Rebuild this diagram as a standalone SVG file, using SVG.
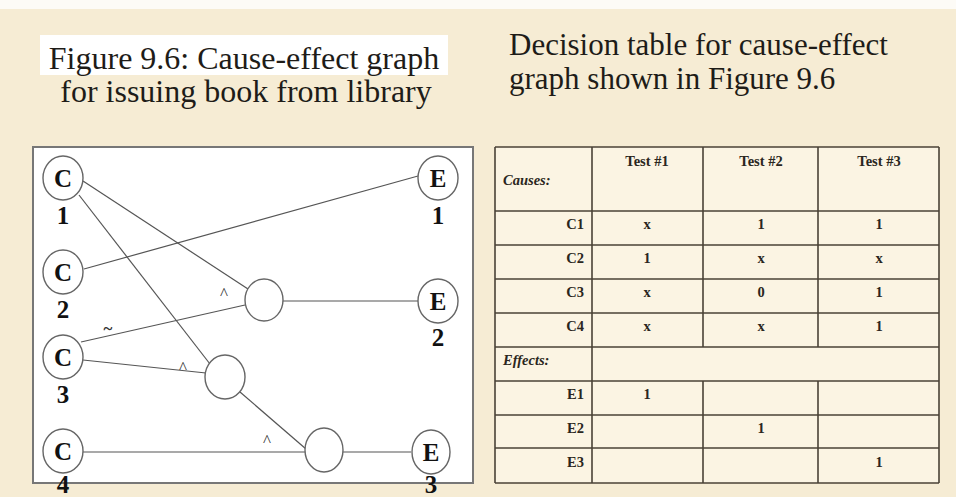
<svg xmlns="http://www.w3.org/2000/svg" width="956" height="497" viewBox="0 0 956 497">
<style>
.title{font-family:"Liberation Serif","Times New Roman",serif;fill:#1e1c18;}
.node ellipse{fill:#fff;stroke:#666;stroke-width:1.4;}
.nt{font-family:"Liberation Serif","Times New Roman",serif;font-weight:bold;font-size:25px;fill:#111;text-anchor:middle;}
.edges line{stroke:#555;stroke-width:1.2;}
.op{font-family:"Liberation Serif","Times New Roman",serif;font-size:17px;fill:#333;text-anchor:middle;}
.grid line{stroke:#4a4236;stroke-width:1.6;}
.tt{font-family:"Liberation Serif","Times New Roman",serif;font-weight:bold;font-size:14.5px;fill:#2a2620;}
.c{text-anchor:middle;}
.r{text-anchor:end;}
.it{font-style:italic;}
</style>
<rect x="0" y="0" width="956" height="497" fill="#f6ecd4"/>
<rect x="0" y="0" width="956" height="9" fill="#fdfbf6"/>
<rect x="40" y="35" width="408" height="40" fill="#ffffff"/>
<text class="title" x="244" y="69" font-size="32" text-anchor="middle">Figure 9.6: Cause-effect graph</text>
<text class="title" x="246" y="102" font-size="32" text-anchor="middle">for issuing book from library</text>
<text class="title" x="509" y="55" font-size="31">Decision table for cause-effect</text>
<text class="title" x="509" y="89" font-size="31">graph shown in Figure 9.6</text>

<rect x="33" y="147" width="440" height="336" fill="#ffffff" stroke="#777" stroke-width="2"/>

<g class="edges" id="connectors">
<line x1="83" y1="181" x2="248" y2="289"/>
<line x1="79" y1="195" x2="210" y2="364"/>
<line x1="84" y1="269" x2="418" y2="176"/>
<line x1="81" y1="342" x2="245" y2="305"/>
<line x1="83" y1="360" x2="206" y2="373"/>
<line x1="283" y1="301" x2="418" y2="301"/>
<line x1="240" y1="392" x2="306" y2="449"/>
<line x1="83" y1="452" x2="305" y2="452"/>
<line x1="343" y1="452" x2="411" y2="452"/>
<text class="op" x="224" y="299">^</text>
<text class="op" x="183" y="373">^</text>
<text class="op" x="267" y="446">^</text>
<text class="op" x="108" y="334" font-weight="bold">~</text>
</g>

<g class="node" id="C1"><ellipse cx="63" cy="178" rx="20" ry="22"/><text class="nt" x="63" y="187">C</text><text class="nt" x="63" y="224">1</text></g>
<g class="node" id="C2"><ellipse cx="63" cy="272" rx="20" ry="22"/><text class="nt" x="63" y="281">C</text><text class="nt" x="63" y="318">2</text></g>
<g class="node" id="C3"><ellipse cx="63" cy="357" rx="20" ry="22"/><text class="nt" x="63" y="366">C</text><text class="nt" x="63" y="403">3</text></g>
<g class="node" id="C4"><ellipse cx="63" cy="451" rx="20" ry="22"/><text class="nt" x="63" y="460">C</text><text class="nt" x="63" y="493" font-size="22">4</text></g>
<g class="node" id="E1"><ellipse cx="438" cy="178" rx="20" ry="22"/><text class="nt" x="438" y="187">E</text><text class="nt" x="438" y="224">1</text></g>
<g class="node" id="E2"><ellipse cx="438" cy="301" rx="20" ry="22"/><text class="nt" x="438" y="310">E</text><text class="nt" x="438" y="346">2</text></g>
<g class="node" id="E3"><ellipse cx="431" cy="452" rx="19" ry="22"/><text class="nt" x="431" y="461">E</text><text class="nt" x="431" y="493" font-size="22">3</text></g>
<g class="node" id="N1"><ellipse cx="264" cy="300" rx="19" ry="21"/></g>
<g class="node" id="N2"><ellipse cx="225" cy="377" rx="20" ry="22"/></g>
<g class="node" id="N3"><ellipse cx="324" cy="450" rx="19" ry="22"/></g>

<g id="decision-table">
<rect x="495" y="147" width="444" height="336" fill="#fbf4e3"/>
<g class="grid">
<line x1="495" y1="147" x2="939" y2="147" stroke-width="2.2"/>
<line x1="495" y1="483" x2="939" y2="483" stroke-width="2.2"/>
<line x1="495" y1="147" x2="495" y2="483" stroke-width="2.2"/>
<line x1="939" y1="147" x2="939" y2="483" stroke-width="2.2"/>
<line x1="592" y1="147" x2="592" y2="483"/>
<line x1="703" y1="147" x2="703" y2="347"/>
<line x1="818" y1="147" x2="818" y2="347"/>
<line x1="703" y1="381" x2="703" y2="483"/>
<line x1="818" y1="381" x2="818" y2="483"/>
<line x1="495" y1="211" x2="939" y2="211"/>
<line x1="495" y1="245" x2="939" y2="245"/>
<line x1="495" y1="279" x2="939" y2="279"/>
<line x1="495" y1="313" x2="939" y2="313"/>
<line x1="495" y1="347" x2="939" y2="347"/>
<line x1="495" y1="381" x2="939" y2="381"/>
<line x1="495" y1="415" x2="939" y2="415"/>
<line x1="495" y1="448" x2="939" y2="448"/>
</g>
<text class="tt c" x="647" y="166">Test #1</text>
<text class="tt c" x="761" y="166">Test #2</text>
<text class="tt c" x="879" y="166">Test #3</text>
<text class="tt it" x="503" y="185">Causes:</text>
<text class="tt r" x="584" y="229">C1</text>
<text class="tt r" x="584" y="263">C2</text>
<text class="tt r" x="584" y="297">C3</text>
<text class="tt r" x="584" y="331">C4</text>
<text class="tt it" x="503" y="365">Effects:</text>
<text class="tt r" x="584" y="399">E1</text>
<text class="tt r" x="584" y="433">E2</text>
<text class="tt r" x="584" y="467">E3</text>
<text class="tt c" x="647" y="229">x</text>
<text class="tt c" x="761" y="229">1</text>
<text class="tt c" x="879" y="229">1</text>
<text class="tt c" x="647" y="263">1</text>
<text class="tt c" x="761" y="263">x</text>
<text class="tt c" x="879" y="263">x</text>
<text class="tt c" x="647" y="297">x</text>
<text class="tt c" x="761" y="297">0</text>
<text class="tt c" x="879" y="297">1</text>
<text class="tt c" x="647" y="331">x</text>
<text class="tt c" x="761" y="331">x</text>
<text class="tt c" x="879" y="331">1</text>
<text class="tt c" x="647" y="399">1</text>
<text class="tt c" x="761" y="433">1</text>
<text class="tt c" x="879" y="467">1</text>
</g>
</svg>
